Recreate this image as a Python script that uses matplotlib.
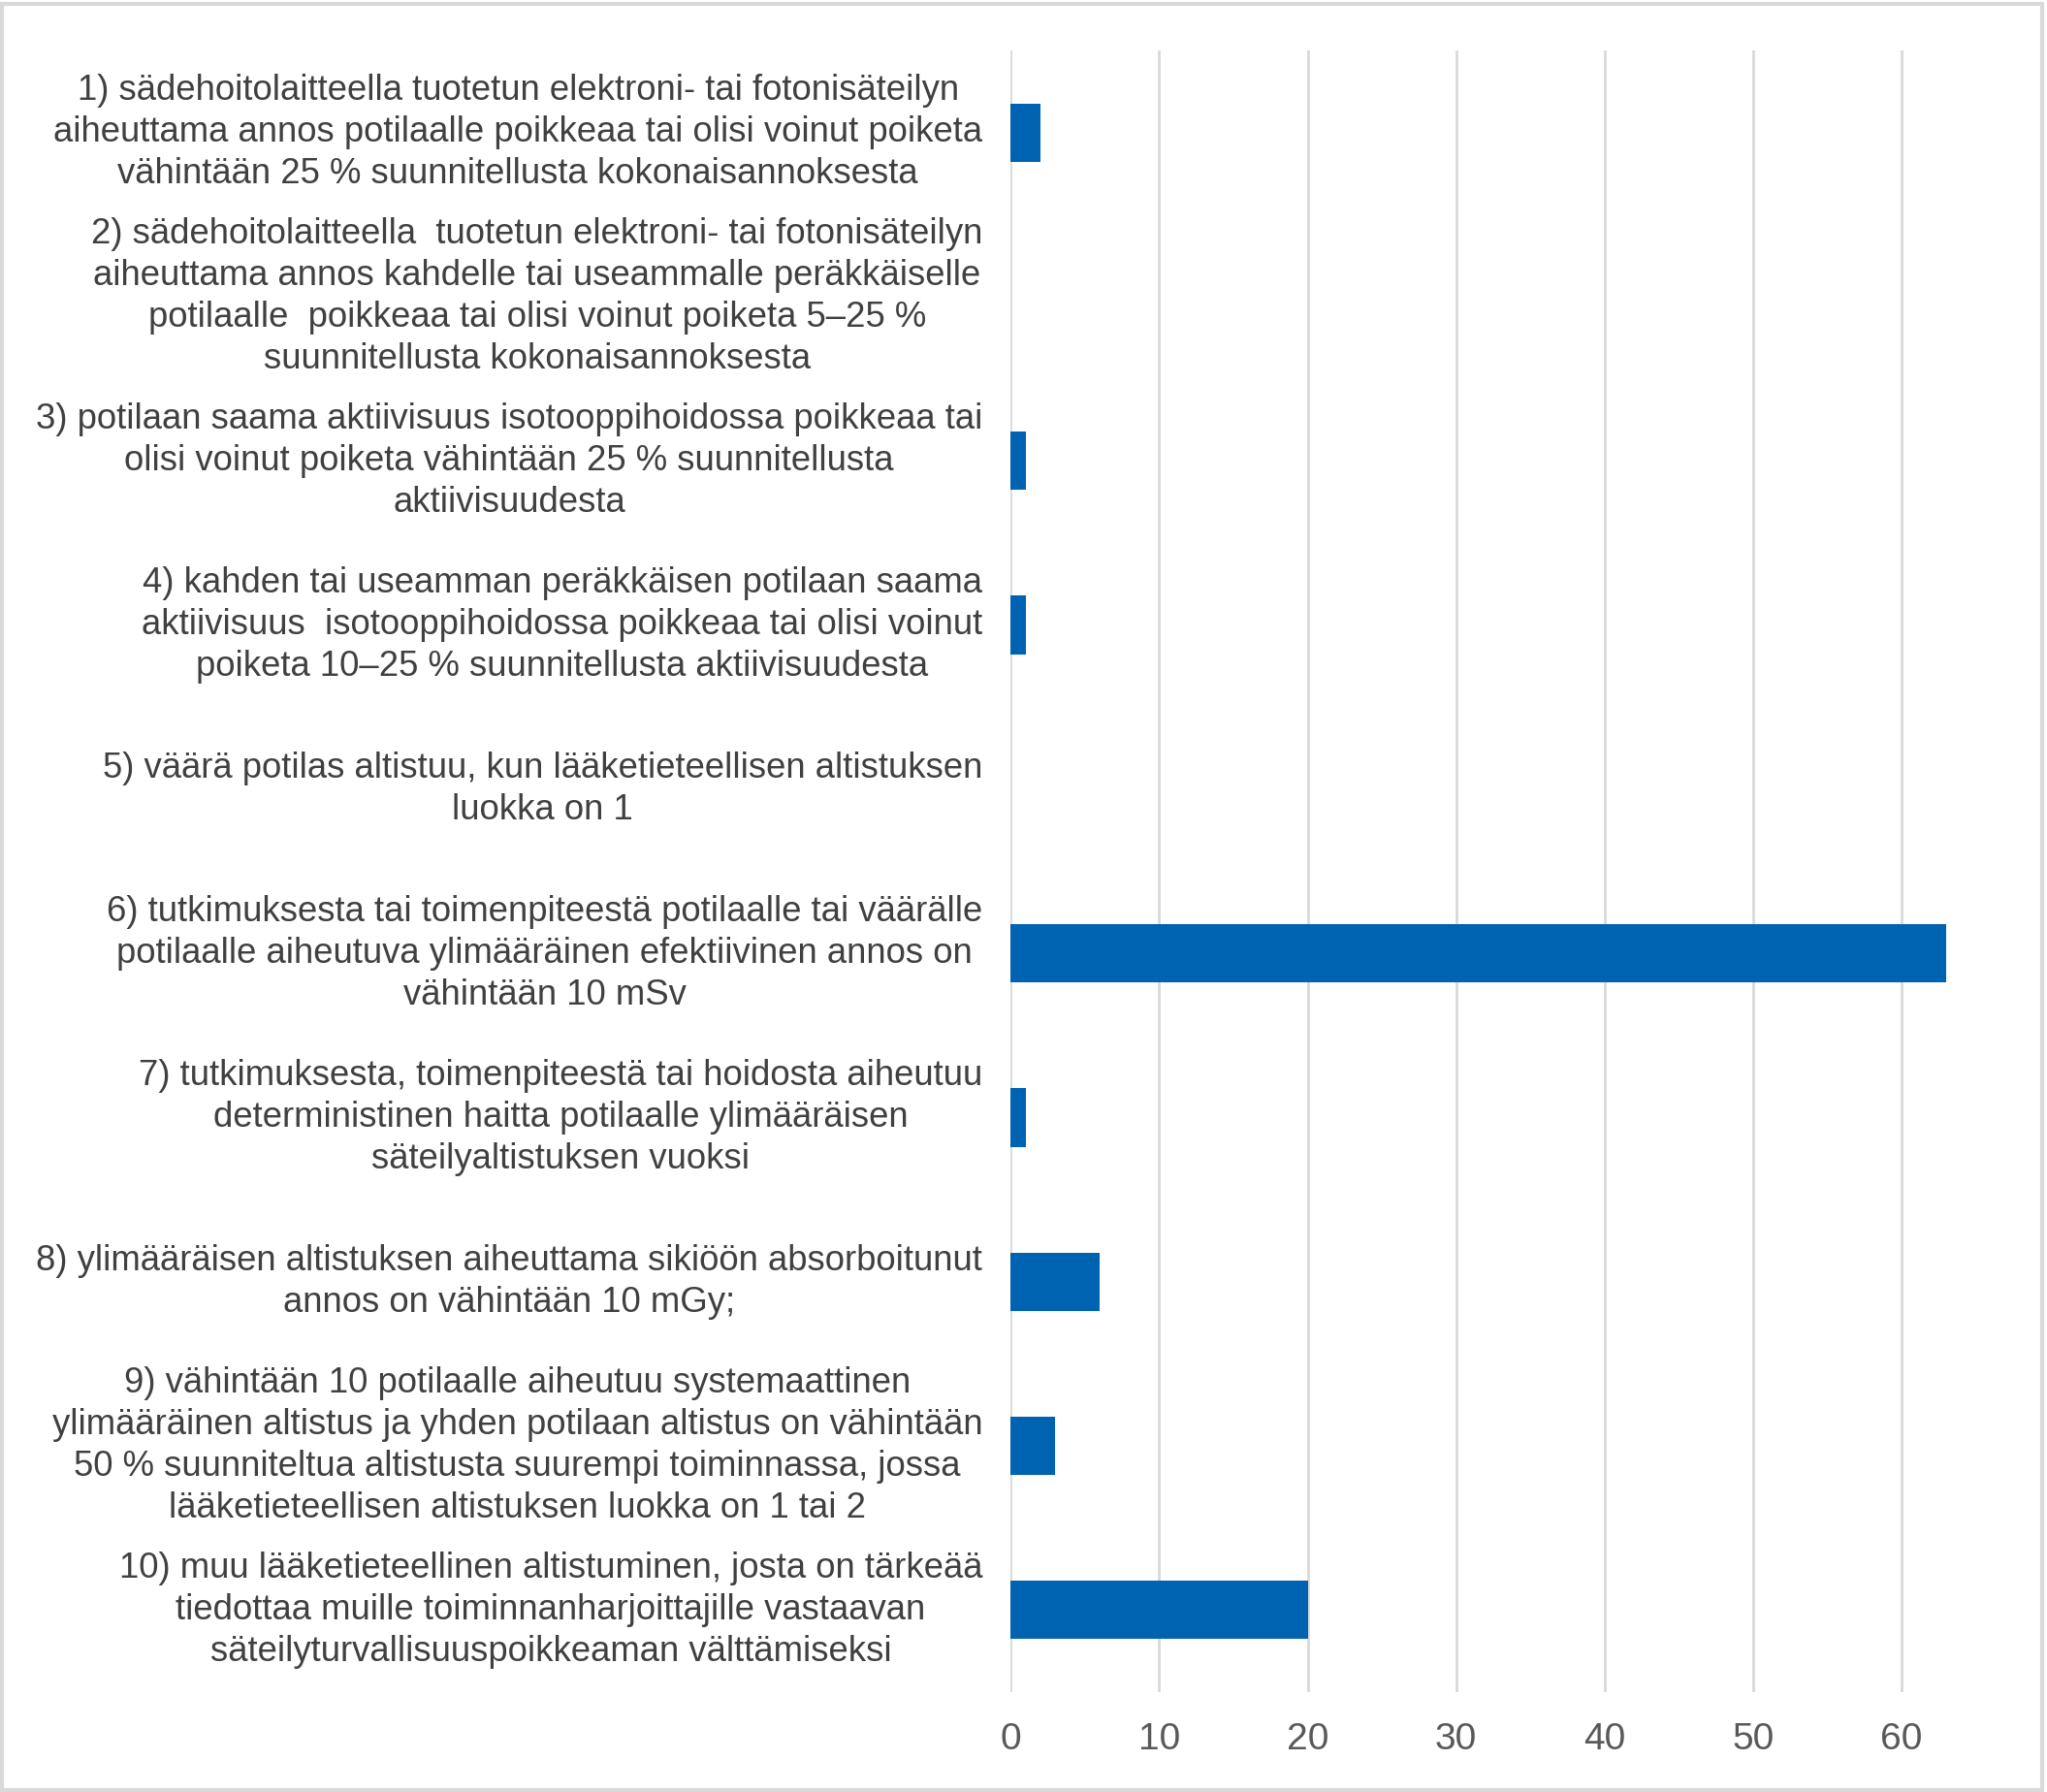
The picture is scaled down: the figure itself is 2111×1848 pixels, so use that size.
import matplotlib.pyplot as plt
from matplotlib.patches import Rectangle

# luokat ja arvot
categories = [
    "1) sädehoitolaitteella tuotetun elektroni- tai fotonisäteilyn\naiheuttama annos potilaalle poikkeaa tai olisi voinut poiketa\nvähintään 25 % suunnitellusta kokonaisannoksesta",
    "2) sädehoitolaitteella  tuotetun elektroni- tai fotonisäteilyn\naiheuttama annos kahdelle tai useammalle peräkkäiselle\npotilaalle  poikkeaa tai olisi voinut poiketa 5–25 %\nsuunnitellusta kokonaisannoksesta",
    "3) potilaan saama aktiivisuus isotooppihoidossa poikkeaa tai\nolisi voinut poiketa vähintään 25 % suunnitellusta\naktiivisuudesta",
    "4) kahden tai useamman peräkkäisen potilaan saama\naktiivisuus  isotooppihoidossa poikkeaa tai olisi voinut\npoiketa 10–25 % suunnitellusta aktiivisuudesta",
    "5) väärä potilas altistuu, kun lääketieteellisen altistuksen\nluokka on 1",
    "6) tutkimuksesta tai toimenpiteestä potilaalle tai väärälle\npotilaalle aiheutuva ylimääräinen efektiivinen annos on\nvähintään 10 mSv",
    "7) tutkimuksesta, toimenpiteestä tai hoidosta aiheutuu\ndeterministinen haitta potilaalle ylimääräisen\nsäteilyaltistuksen vuoksi",
    "8) ylimääräisen altistuksen aiheuttama sikiöön absorboitunut\nannos on vähintään 10 mGy;",
    "9) vähintään 10 potilaalle aiheutuu systemaattinen\nylimääräinen altistus ja yhden potilaan altistus on vähintään\n50 % suunniteltua altistusta suurempi toiminnassa, jossa\nlääketieteellisen altistuksen luokka on 1 tai 2",
    "10) muu lääketieteellinen altistuminen, josta on tärkeää\ntiedottaa muille toiminnanharjoittajille vastaavan\nsäteilyturvallisuuspoikkeaman välttämiseksi",
]
values = [2, 0, 1, 1, 0, 63, 1, 6, 3, 20]
xticks = [0, 10, 20, 30, 40, 50, 60]

plt.rcParams['font.family'] = ['Liberation Sans', 'DejaVu Sans']

fig = plt.figure(figsize=(21.11, 18.48), dpi=100)
ax = fig.add_axes([0.4938, 0.0557, 0.4785, 0.9162])

ypos = list(range(len(categories)))
ax.barh(ypos, values, height=0.355, color='#0063B1', zorder=3)
ax.set_ylim(len(categories) - 0.5, -0.5)
ax.set_xlim(0, 66)

ax.set_xticks(xticks)
ax.set_xticklabels([str(t) for t in xticks], fontsize=28, color='#595959')
ax.tick_params(axis='x', length=0, pad=22)
ax.set_yticks(ypos)
ax.set_yticklabels([])
ax.tick_params(axis='y', length=0)
for y, lab in zip(ypos, categories):
    ax.text(-1.9, y, lab, ha='right', va='center', multialignment='center',
            fontsize=26.3, color='#404040', linespacing=1.3)

ax.grid(axis='x', color='#D9D9D9', linewidth=2, zorder=0)
for s in ax.spines.values():
    s.set_visible(False)

# reunaviiva
fig.patches.append(Rectangle((0.001, 0.001), 0.9965, 0.997, transform=fig.transFigure,
                             fill=False, edgecolor='#D9D9D9', linewidth=3))

plt.savefig('out.png', dpi=100)
